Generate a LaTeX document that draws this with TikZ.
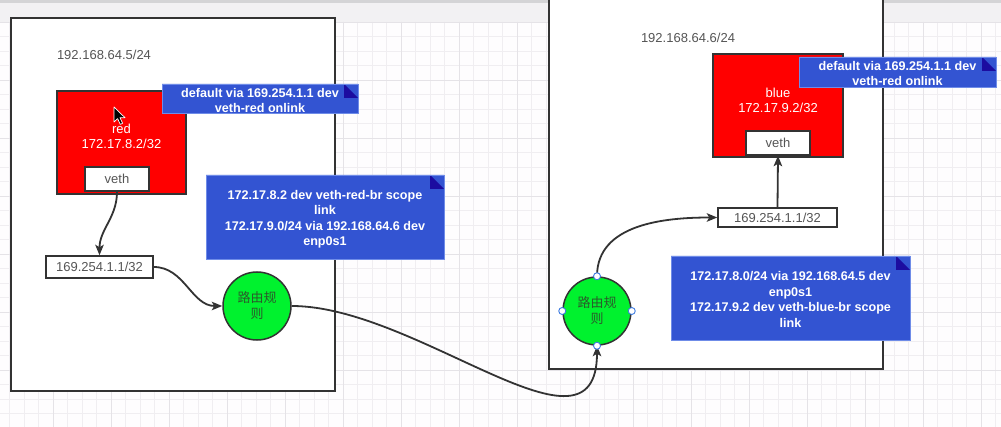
\documentclass[tikz,border=0pt]{standalone}
\usepackage{fontspec}
\setmainfont{Liberation Sans}
\newfontfamily\cjk{Noto Sans CJK SC}
\usetikzlibrary{arrows.meta,shapes.misc}

\definecolor{pagebg}{HTML}{FEFDFE}
\definecolor{bandbg}{HTML}{F2F1F3}
\definecolor{bandline}{HTML}{D4D4D6}
\definecolor{gridminor}{HTML}{F0EEF1}
\definecolor{gridmajor}{HTML}{E5E3E7}
\definecolor{edge}{HTML}{333333}
\definecolor{labelgray}{HTML}{555555}
\definecolor{nsred}{HTML}{FF0000}
\definecolor{notefill}{HTML}{3354D2}
\definecolor{noteedge}{HTML}{6F8CE8}
\definecolor{folddark}{HTML}{1C0CA0}
\definecolor{rulegreen}{HTML}{00F22E}
\definecolor{ruletext}{HTML}{2B5A2B}
\definecolor{handleblue}{HTML}{3D7BE0}

\newcommand\txtfont{\fontsize{13}{15}\selectfont}
\newcommand\notefont{\fontsize{12.6}{15.5}\selectfont\bfseries}

\begin{document}
\begin{tikzpicture}[x=1pt,y=-1pt,
  hostbox/.style={draw=edge, line width=2pt, fill=white, inner sep=0pt},
  nsbox/.style={draw=edge, line width=1.8pt, fill=nsred, inner sep=0pt},
  vethbox/.style={draw=edge, line width=1.5pt, fill=white, inner sep=0pt,
    minimum width=64, minimum height=24, text=labelgray, font=\txtfont},
  ipbox/.style={draw=edge, line width=1.5pt, fill=white, inner sep=0pt,
    text=labelgray, font=\txtfont},
  hostlabel/.style={text=labelgray, font=\txtfont, inner sep=0pt},
  nslabel/.style={text=white, font=\txtfont, align=center, inner sep=0pt},
  rule/.style={circle, draw=edge, line width=1.5pt, fill=rulegreen,
    minimum size=68, inner sep=0pt, text=ruletext, align=center,
    font=\cjk\fontsize{13}{16}\selectfont},
  notebox/.style={chamfered rectangle, chamfered rectangle corners=north east,
    chamfered rectangle angle=45, chamfered rectangle xsep=14pt,
    fill=notefill, draw=noteedge, line width=0.6pt, inner sep=0pt,
    text=white, font=\notefont, align=center,
    path picture={\fill[folddark] ([xshift=-14pt]path picture bounding box.north east)
      -- ++(0,-14pt) -- ++(14pt,0) -- cycle;}},
  notetext/.style={text=white, font=\notefont, align=center, inner sep=0pt},
  conn/.style={draw=edge, line width=1.8pt,
    -{Stealth[length=10.5pt,width=8.5pt,inset=2.5pt]}},
  handle/.style={draw=handleblue, fill=white, line width=0.9pt}
]
\useasboundingbox (0,0) rectangle (1001,427);

% page, toolbar band and grid
\fill[pagebg] (0,0) rectangle (1001,427);
\fill[bandbg] (0,0) rectangle (1001,22);
\fill[bandline] (0,0) rectangle (1001,3);
\foreach \i in {0,...,70}
  \draw[gridminor, line width=0.8pt] ({-5+14.5*\i},22) -- ({-5+14.5*\i},427);
\foreach \j in {0,...,28}
  \draw[gridminor, line width=0.8pt] (0,{22+14.5*\j}) -- (1001,{22+14.5*\j});
\foreach \i in {0,...,18}
  \draw[gridmajor, line width=0.9pt] ({-5+58*\i},22) -- ({-5+58*\i},427);
\foreach \j in {0,...,7}
  \draw[gridmajor, line width=0.9pt] (0,{22+58*\j}) -- (1001,{22+58*\j});

% hosts
\node[hostbox, minimum width=324, minimum height=373] (hostA) at (173,204.5) {};
\node[hostbox, minimum width=334, minimum height=374] (hostB) at (716,182) {};
\node[hostlabel] (hostAip) at (104,55) {192.168.64.5/24};
\node[hostlabel] (hostBip) at (688,38) {192.168.64.6/24};

% namespace red
\node[nsbox, minimum width=129, minimum height=103] (nsA) at (121.5,142.5) {};
\node[nslabel] (nsAlabel) at (121.5,136.5) {red\\172.17.8.2/32};
\node[vethbox] (vethA) at (117,179) {veth};

% namespace blue
\node[nsbox, minimum width=130, minimum height=103] (nsB) at (778,105.5) {};
\node[nslabel] (nsBlabel) at (778,100.5) {blue\\172.17.9.2/32};
\node[vethbox] (vethB) at (778,143) {veth};

% gateway addresses
\node[ipbox, minimum width=107, minimum height=22] (ipA) at (99.5,267) {169.254.1.1/32};
\node[ipbox, minimum width=119, minimum height=19] (ipB) at (777.5,217.5) {169.254.1.1/32};

% routing rules
\node[rule] (cA) at (257,306) {路由规\\则};
\node[rule] (cB) at (597,311) {路由规\\则};

% route notes: shape first, then the text on top
\node[notebox, minimum width=196, minimum height=29] (noteA1) at (260,98.5) {};
\node[notetext] (noteA1t) at (260,100.5) {default via 169.254.1.1 dev\\veth-red onlink};
\node[notebox, minimum width=238, minimum height=84] (noteA2) at (325,217) {};
\node[notetext] (noteA2t) at (325,219)
  {172.17.8.2 dev veth-red-br scope\\link\\172.17.9.0/24 via 192.168.64.6 dev\\enp0s1};
\node[notebox, minimum width=197, minimum height=30] (noteB1) at (897.5,72) {};
\node[notetext] (noteB1t) at (897.5,73.5) {default via 169.254.1.1 dev\\veth-red onlink};
\node[notebox, minimum width=239, minimum height=84] (noteB2) at (790.5,298) {};
\node[notetext] (noteB2t) at (790.5,299.5)
  {172.17.8.0/24 via 192.168.64.5 dev\\enp0s1\\172.17.9.2 dev veth-blue-br scope\\link};

% packet path
\draw[conn] (vethA.south) to[out=-90,in=90] (ipA.north);
\draw[conn] (ipA.east) to[out=0,in=180] (cA.west);
\draw[conn] (cA.east) to[out=0,in=-90,looseness=1.05] (cB.south);
\draw[conn] (cB.north) to[out=90,in=180] (ipB.west);
\draw[conn] (ipB.north) -- (vethB.south);

% selection handles on the right rule
\foreach \a in {north,south,east,west}
  \draw[handle] (cB.\a) circle (3.5);

% mouse pointer
\fill[black, draw=white, line width=0.7pt, line join=round]
  (114,107) -- ++(0,15) -- ++(3.6,-3.4) -- ++(2.7,5.8) -- ++(2.3,-1.1)
  -- ++(-2.6,-5.6) -- ++(5,0) -- cycle;
\end{tikzpicture}
\end{document}
